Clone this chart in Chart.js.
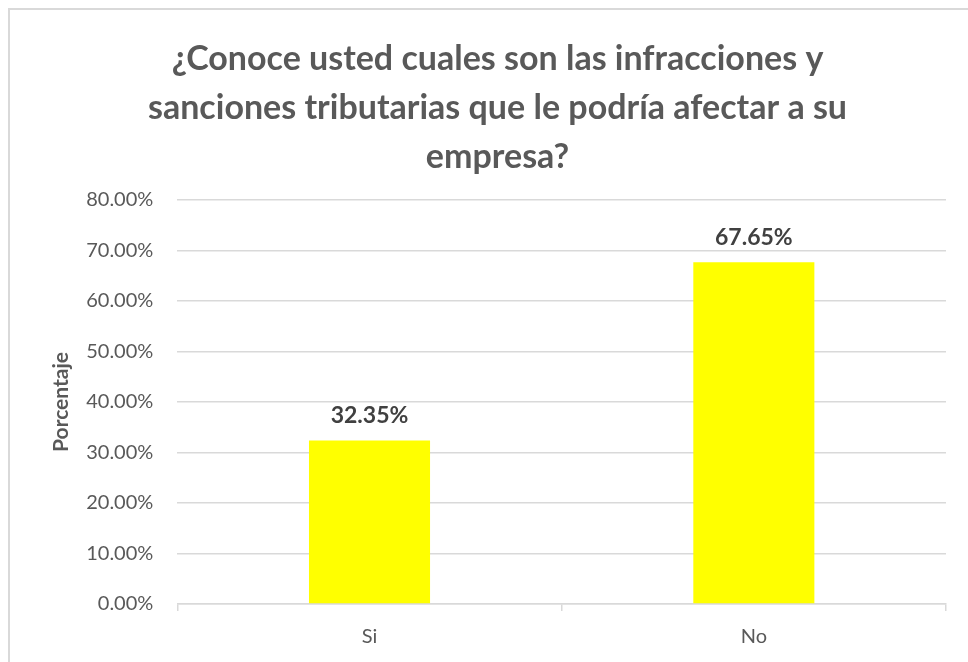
<!DOCTYPE html>
<html>
<head>
<meta charset="utf-8">
<script src="https://cdn.jsdelivr.net/npm/chart.js@4.4.0/dist/chart.umd.min.js"></script>
<style>
  html, body { margin: 0; padding: 0; background: #fff; }
  #wrap { width: 968px; height: 662px; position: relative; }
</style>
</head>
<body>
<div id="wrap"><canvas id="myChart"></canvas></div>
<script>
const categories = ['Si', 'No'];
const porcentajes = [32.35, 67.65];
const titleLines = ['¿Conoce usted cuales son las infracciones y', 'sanciones tributarias que le podría afectar a su', 'empresa?'];
const axisTitle = 'Porcentaje';

const FONT = 'Lato, "Liberation Sans", sans-serif';

// frame around the chart (the picture is cropped on the right and bottom)
const frame = {
    id: 'frame',
    beforeDraw(chart) {
        const c = chart.ctx;
        c.save();
        c.fillStyle = '#fff';
        c.fillRect(0, 0, chart.width, chart.height);
        c.strokeStyle = '#d9d9d9';
        c.lineWidth = 2;
        c.strokeRect(9, 9, chart.width + 20, chart.height + 20);
        c.restore();
    }
};

// value labels above the bars
const valueLabels = {
    id: 'valueLabels',
    afterDatasetsDraw(chart) {
        const c = chart.ctx;
        const meta = chart.getDatasetMeta(0);
        c.save();
        c.font = 'bold 23px ' + FONT;
        c.fillStyle = '#404040';
        c.textAlign = 'center';
        c.textBaseline = 'middle';
        meta.data.forEach(function(bar, i) {
            c.fillText(porcentajes[i].toFixed(2) + '%', bar.x, bar.y - 25);
        });
        c.restore();
    }
};

new Chart(document.getElementById('myChart'), {
    type: 'bar',
    data: {
        labels: categories,
        datasets: [{
            data: porcentajes,
            backgroundColor: '#ffff00',
            categoryPercentage: 1,
            barPercentage: 0.315
        }]
    },
    options: {
        responsive: true,
        maintainAspectRatio: false,
        animation: false,
        layout: {
            padding: { top: 34, left: 49, right: 22, bottom: -1 }
        },
        plugins: {
            legend: { display: false },
            tooltip: { enabled: false },
            title: {
                display: true,
                text: titleLines,
                color: '#595959',
                font: { family: FONT, size: 34, weight: 'bold', lineHeight: 1.45 },
                padding: { top: 0, bottom: 18 }
            }
        },
        scales: {
            y: {
                min: 0,
                max: 80,
                ticks: {
                    stepSize: 10,
                    color: '#595959',
                    font: { family: FONT, size: 20 },
                    padding: 24,
                    callback: function(value) {
                        return value.toFixed(2) + '%';
                    }
                },
                grid: {
                    color: '#d9d9d9',
                    lineWidth: 1.5,
                    drawTicks: false
                },
                border: { display: false },
                title: {
                    display: true,
                    text: axisTitle,
                    color: '#595959',
                    font: { family: FONT, size: 21, weight: 'bold' },
                    padding: { top: 0, bottom: -12 }
                }
            },
            x: {
                offset: true,
                ticks: {
                    color: '#595959',
                    font: { family: FONT, size: 20 },
                    padding: 14
                },
                grid: {
                    offset: true,
                    drawOnChartArea: false,
                    drawTicks: true,
                    tickLength: 7,
                    color: '#d9d9d9',
                    lineWidth: 1.5
                },
                border: { display: true, color: '#d9d9d9', width: 1.5 }
            }
        }
    },
    plugins: [frame, valueLabels]
});
</script>
</body>
</html>
